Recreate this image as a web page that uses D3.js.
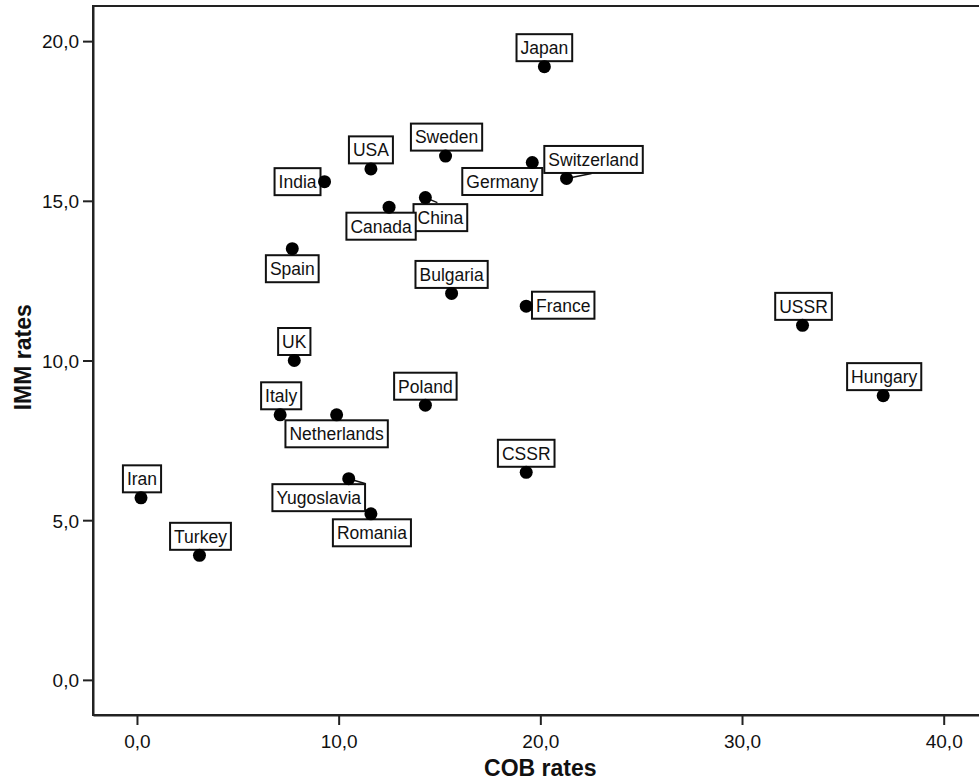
<!DOCTYPE html>
<html lang="en">
<head>
<meta charset="UTF-8">
<title>IMM vs COB rates</title>
<script src="https://d3js.org/d3.v7.min.js"></script>
<style>
  body { margin: 0; background: #fff; }
  text { font-family: "Liberation Sans", Arial, Helvetica, sans-serif; fill: #111; }
</style>
</head>
<body>
<div id="chart"></div>
<script>
  // data
  const countries = ["Japan", "USA", "Sweden", "Germany", "Switzerland", "China", "Canada", "India",
                     "Spain", "Bulgaria", "France", "UK", "Italy", "Netherlands", "Poland", "CSSR",
                     "Yugoslavia", "Romania", "Iran", "Turkey", "USSR", "Hungary"];
  const cobRates = [20.2, 11.6, 15.3, 19.6, 21.3, 14.3, 12.5, 9.3,
                    7.7, 15.6, 19.3, 7.8, 7.1, 9.9, 14.3, 19.3,
                    10.5, 11.6, 0.2, 3.1, 33.0, 37.0];
  const immRates = [19.2, 16.0, 16.4, 16.2, 15.7, 15.1, 14.8, 15.6,
                    13.5, 12.1, 11.7, 10.0, 8.3, 8.3, 8.6, 6.5,
                    6.3, 5.2, 5.7, 3.9, 11.1, 8.9];
  const xTicks = [0, 10, 20, 30, 40];
  const yTicks = [0, 5, 10, 15, 20];

  // label box placement: centre offset from the dot (px), optional leader end offset
  const labelPlace = {
    Japan: [0, -19], USA: [0, -19], Sweden: [1, -19], Germany: [-30, 19],
    Switzerland: [27, -19, [25, -5]], China: [15, 20, [12, 5]], Canada: [-8, 19],
    India: [-27, 0], Spain: [0, 20], Bulgaria: [0, -19], France: [37, -1],
    UK: [0, -19], Italy: [1, -19], Netherlands: [0, 19], Poland: [0, -19],
    CSSR: [0, -19], Yugoslavia: [-30, 19, [17, 5]], Romania: [1, 19],
    Iran: [1, -19], Turkey: [1, -19], USSR: [1, -19], Hungary: [1, -19]
  };

  const w = 979, h = 780;
  const padLeft = 93, padTop = 6, padBottom = 715;

  const svg = d3.select("#chart").append("svg")
    .attr("width", w).attr("height", h);

  const x = d3.scaleLinear().domain([-2.18, 41.8]).range([padLeft, 980]);
  const y = d3.scaleLinear().domain([-1.1, 21.1]).range([padBottom, padTop]);
  const fmt = d => d3.format(".1f")(d).replace(".", ",");

  // frame
  svg.append("rect")
    .attr("x", padLeft).attr("y", padTop)
    .attr("width", 1000 - padLeft).attr("height", padBottom - padTop)
    .attr("fill", "none").attr("stroke", "#222").attr("stroke-width", 2);

  const xAxis = svg.append("g")
    .attr("transform", `translate(0,${padBottom})`)
    .call(d3.axisBottom(x).tickValues(xTicks).tickFormat(fmt).tickSize(10).tickSizeOuter(0));
  const yAxis = svg.append("g")
    .attr("transform", `translate(${padLeft},0)`)
    .call(d3.axisLeft(y).tickValues(yTicks).tickFormat(fmt).tickSize(10).tickSizeOuter(0));

  [xAxis, yAxis].forEach(g => {
    g.select(".domain").attr("stroke", "#222").attr("stroke-width", 2);
    g.selectAll(".tick line").attr("stroke", "#222").attr("stroke-width", 2);
    g.selectAll(".tick text").style("font-size", "19px").attr("fill", "#111");
  });
  xAxis.selectAll(".tick text").attr("dy", "0.95em").attr("y", 15);
  yAxis.selectAll(".tick text").attr("x", -14).attr("dy", "0.36em");

  // axis titles
  svg.append("text")
    .attr("x", x(20)).attr("y", 776)
    .attr("text-anchor", "middle")
    .style("font-size", "23px").style("font-weight", "bold")
    .text("COB rates");
  svg.append("text")
    .attr("transform", `translate(31,${y(10.1)}) rotate(-90)`)
    .attr("text-anchor", "middle")
    .style("font-size", "23px").style("font-weight", "bold")
    .text("IMM rates");

  const pts = countries.map((c, i) => ({ name: c, cx: x(cobRates[i]), cy: y(immRates[i]) }));

  // leader lines
  pts.forEach(p => {
    const pl = labelPlace[p.name];
    if (pl[2]) {
      svg.append("line")
        .attr("x1", p.cx).attr("y1", p.cy)
        .attr("x2", p.cx + pl[2][0]).attr("y2", p.cy + pl[2][1])
        .attr("stroke", "#111").attr("stroke-width", 1.5);
    }
  });

  // label boxes
  pts.forEach(p => {
    const pl = labelPlace[p.name];
    const g = svg.append("g")
      .attr("transform", `translate(${p.cx + pl[0]},${p.cy + pl[1]})`);
    const rect = g.append("rect").attr("fill", "#fff").attr("stroke", "#111").attr("stroke-width", 2);
    const t = g.append("text")
      .attr("text-anchor", "middle").attr("dy", "0.36em")
      .style("font-size", "17.5px")
      .text(p.name);
    const tw = t.node().getComputedTextLength();
    rect.attr("x", -tw / 2 - 4).attr("y", -13.5).attr("width", tw + 8).attr("height", 27);
  });

  // dots
  svg.selectAll("circle.dot")
    .data(pts)
    .enter()
    .append("circle")
    .attr("class", "dot")
    .attr("cx", d => d.cx)
    .attr("cy", d => d.cy)
    .attr("r", 6.5)
    .attr("fill", "#000");
</script>
</body>
</html>
